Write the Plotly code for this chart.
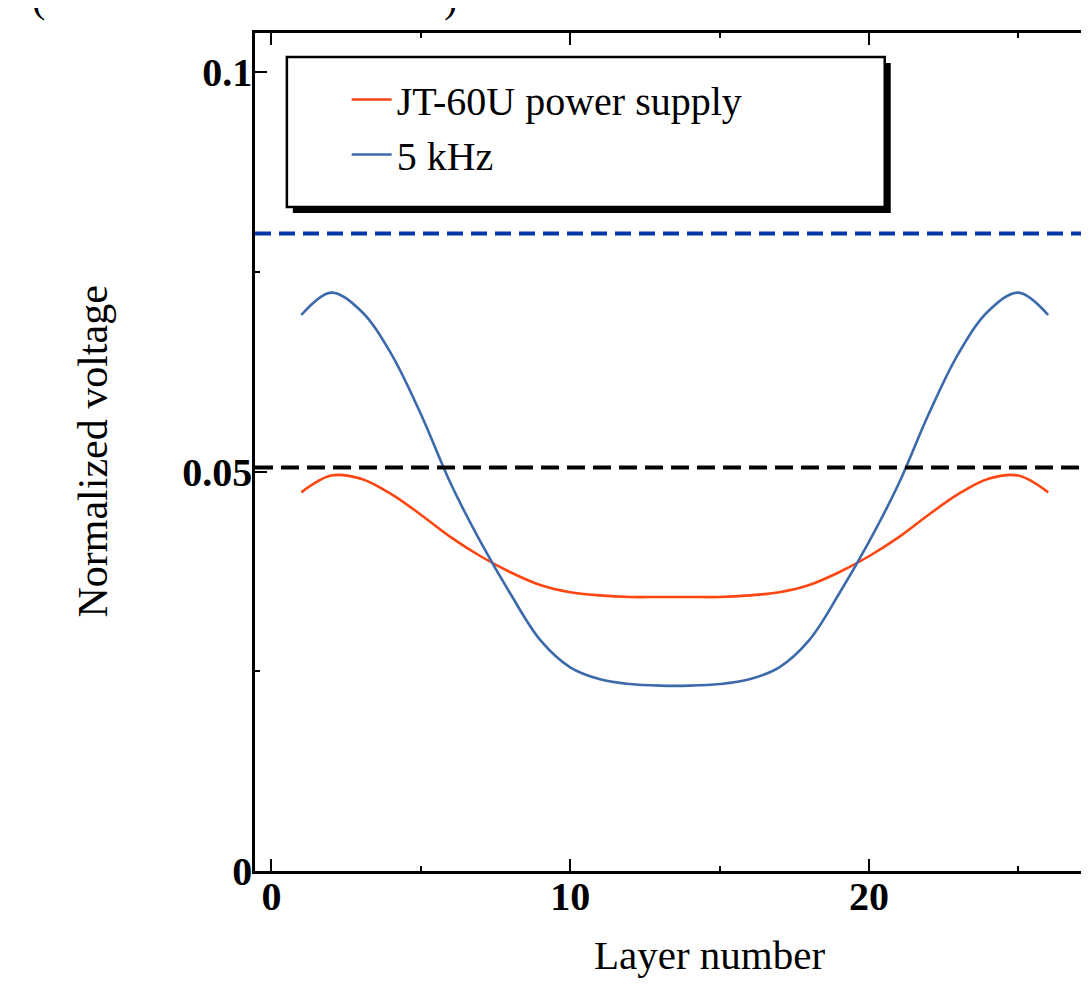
import plotly.graph_objects as go

# ---------------- data ----------------
layers = list(range(1, 27))
jt60u_voltage = [0.0474, 0.0495, 0.0491, 0.0472, 0.0446, 0.0418, 0.0394, 0.0374, 0.0358,
                 0.0349, 0.0345, 0.0343, 0.0343, 0.0343, 0.0343, 0.0345, 0.0349, 0.0358,
                 0.0374, 0.0394, 0.0418, 0.0446, 0.0472, 0.0491, 0.0495, 0.0474]
khz5_voltage = [0.0696, 0.0724, 0.0701, 0.0648, 0.0572, 0.0485, 0.0412, 0.0347, 0.0289,
                0.0255, 0.0240, 0.0234, 0.0232, 0.0232, 0.0234, 0.0240, 0.0255, 0.0289,
                0.0347, 0.0412, 0.0485, 0.0572, 0.0648, 0.0701, 0.0724, 0.0696]
series_names = ["JT-60U power supply", "5 kHz"]
limit_black = 0.0505
limit_blue = 0.0798
x_ticks = [0, 10, 20]
y_ticks = [0, 0.05, 0.1]
y_tick_labels = ["0", "0.05", "0.1"]

# ---------------- layout geometry ----------------
OFF = 8                     # page body margin
W, H = 1088, 984
ML, MR, MT, MB = 247, 0, 25, 121
PW, PH = W - ML - MR, H - MT - MB


def px_x(p):               # viewport pixel -> paper x
    return (p - OFF - ML) / PW


def px_y(p):               # viewport pixel -> paper y
    return (H - MB - (p - OFF)) / PH


FONT = "Liberation Serif"
RED = "#FF4510"
BLUE = "#3C6AAA"

fig = go.Figure()
fig.add_trace(go.Scatter(x=layers, y=jt60u_voltage, mode="lines", name=series_names[0],
                         line=dict(color=RED, width=2.6, shape="spline", smoothing=1.0)))
fig.add_trace(go.Scatter(x=layers, y=khz5_voltage, mode="lines", name=series_names[1],
                         line=dict(color=BLUE, width=2.6, shape="spline", smoothing=1.0)))

# reference (dashed) levels
fig.add_shape(type="line", xref="paper", yref="y", x0=0, x1=1, y0=limit_blue, y1=limit_blue,
              line=dict(color="#0536A8", width=4, dash="16px,8px"), layer="above")
fig.add_shape(type="line", xref="paper", yref="y", x0=0, x1=1, y0=limit_black, y1=limit_black,
              line=dict(color="black", width=4, dash="18px,8px"), layer="above")

# legend frame with drop shadow
lx0, ly0, lx1, ly1 = 287, 57, 887, 207
fig.add_shape(type="rect", xref="paper", yref="paper",
              x0=px_x(lx0 + 6), x1=px_x(lx1 + 6), y0=px_y(ly1 + 6), y1=px_y(ly0 + 6),
              fillcolor="black", line=dict(color="black", width=0), layer="above")
fig.add_shape(type="rect", xref="paper", yref="paper",
              x0=px_x(lx0), x1=px_x(lx1), y0=px_y(ly1), y1=px_y(ly0),
              fillcolor="white", line=dict(color="black", width=2.5), layer="above")

fig.update_layout(
    width=W, height=H,
    margin=dict(l=ML, r=MR, t=MT, b=MB),
    paper_bgcolor="white", plot_bgcolor="white",
    font=dict(family=FONT, color="black", size=40),
    showlegend=True,
    legend=dict(x=px_x(347), y=px_y(67), xanchor="left", yanchor="top",
                bgcolor="rgba(0,0,0,0)", borderwidth=0,
                font=dict(family=FONT, size=40, color="black"),
                itemwidth=40, tracegroupgap=0),
    xaxis=dict(range=[-0.55, 27.5], tickvals=x_ticks, ticks="inside", ticklen=12,
               tickwidth=2, tickcolor="black", showline=True, linecolor="black",
               linewidth=2.5, mirror="ticks", showgrid=False, zeroline=False,
               ticklabelstandoff=-12,
               tickfont=dict(family=FONT, size=40, weight="bold"),
               minor=dict(dtick=5, tick0=0, ticks="inside", ticklen=5, tickwidth=2,
                          tickcolor="black", showgrid=False)),
    yaxis=dict(range=[0, 0.1049], tickvals=y_ticks, ticktext=y_tick_labels,
               ticks="inside", ticklen=12, tickwidth=2, tickcolor="black",
               showline=True, linecolor="black", linewidth=2.5, mirror="ticks",
               showgrid=False, zeroline=False, ticklabelstandoff=-8,
               tickfont=dict(family=FONT, size=40, weight="bold"),
               minor=dict(dtick=0.025, tick0=0, ticks="inside", ticklen=5, tickwidth=2,
                          tickcolor="black", showgrid=False)),
    annotations=[
        dict(text="Layer number", xref="paper", yref="paper", x=px_x(711), y=px_y(955),
             xanchor="center", yanchor="middle", showarrow=False,
             font=dict(family=FONT, size=41, color="black")),
        dict(text="Normalized voltage", xref="paper", yref="paper", x=px_x(92), y=px_y(452),
             xanchor="center", yanchor="middle", textangle=-90, showarrow=False,
             font=dict(family=FONT, size=42, color="black")),
        dict(text="(", xref="paper", yref="paper", x=px_x(38), y=px_y(23),
             xanchor="center", yanchor="bottom", showarrow=False,
             font=dict(family=FONT, size=40, color="black")),
        dict(text=")", xref="paper", yref="paper", x=px_x(451), y=px_y(23),
             xanchor="center", yanchor="bottom", showarrow=False,
             font=dict(family=FONT, size=40, color="black")),
    ],
)

fig.write_html("out.html")
